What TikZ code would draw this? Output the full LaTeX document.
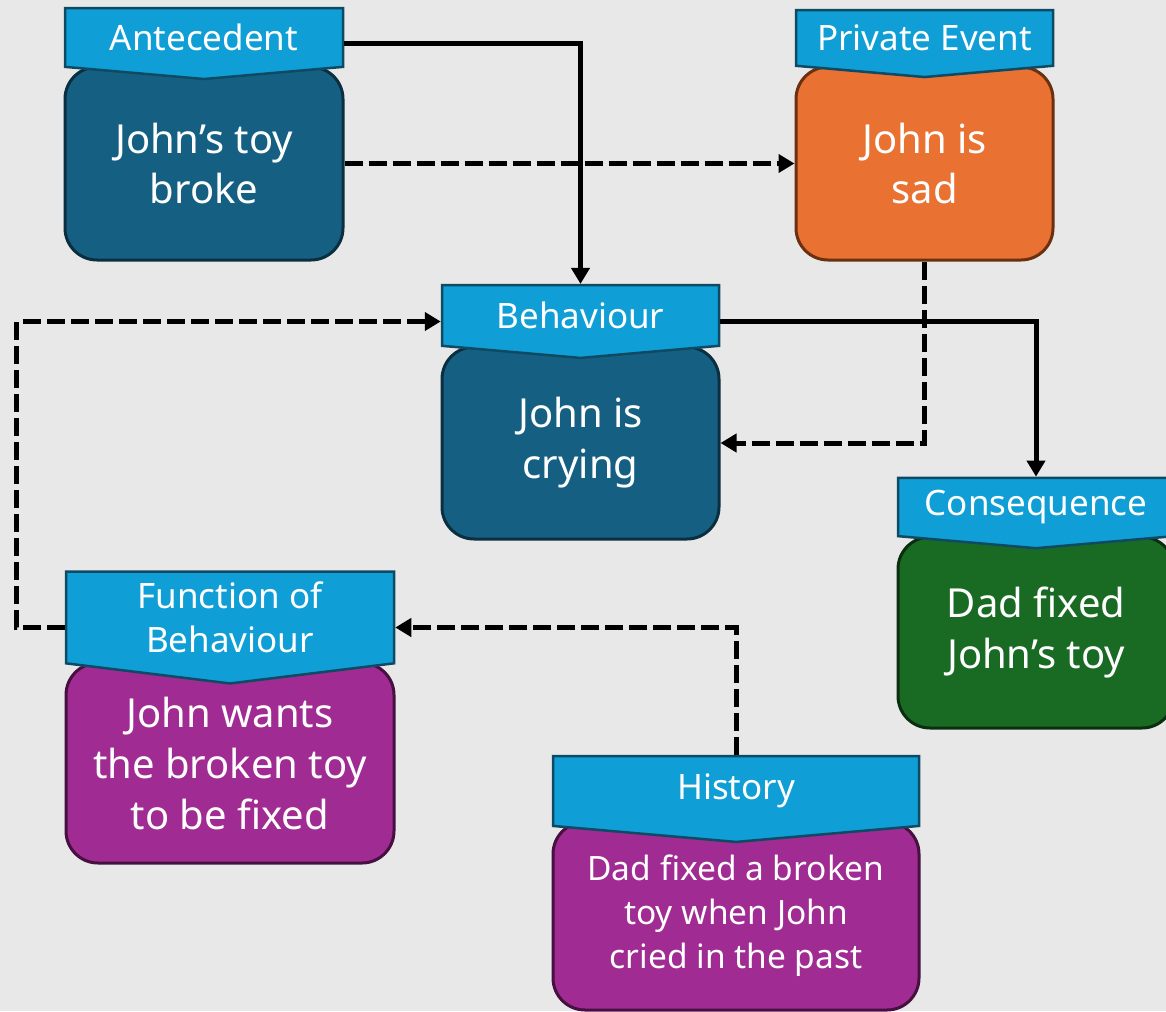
\documentclass[tikz,border=0pt]{standalone}
\usepackage{fontspec}
\setmainfont{Noto Sans}
\usetikzlibrary{arrows.meta,shapes.symbols}

\definecolor{bgGray}{HTML}{E8E8E8}
\definecolor{tagBlue}{HTML}{0F9ED5}
\definecolor{tagEdge}{HTML}{0E4A63}
\definecolor{cardTeal}{HTML}{156082}
\definecolor{edgeTeal}{HTML}{0B2F40}
\definecolor{cardOrange}{HTML}{E97132}
\definecolor{edgeOrange}{HTML}{6A3010}
\definecolor{cardGreen}{HTML}{196B24}
\definecolor{edgeGreen}{HTML}{0B2E10}
\definecolor{cardPurple}{HTML}{A02B93}
\definecolor{edgePurple}{HTML}{461040}

\tikzset{
	tagbox/.style={signal, signal to=south, signal pointer angle=170, fill=tagBlue, draw=tagEdge, line width=2.5pt, text=white, align=center, inner sep=0pt, font=\fontsize{35}{44}\selectfont},
	cardbox/.style={rectangle, rounded corners=32pt, line width=3pt, text=white, align=center, font=\fontsize{40}{51}\selectfont},
	solidlink/.style={line width=5pt, -{Triangle[length=16pt,width=18pt]}},
	dashlink/.style={solidlink, dash pattern=on 18pt off 6pt},
}

\begin{document}
\begin{tikzpicture}[x=1pt,y=-1pt]
				% Canvas
				\useasboundingbox (0,0) rectangle (1166,1011);
				\fill[bgGray] (0,0) rectangle (1166,1011);
				
				% Cards
				\node[cardbox, fill=cardTeal, draw=edgeTeal, minimum width=278pt, minimum height=193pt] (ante) at (204,163.5) {John’s toy\\broke};
				\node[cardbox, fill=cardOrange, draw=edgeOrange, minimum width=257pt, minimum height=193pt] (priv) at (924.5,163.5) {John is\\sad};
				\node[cardbox, fill=cardTeal, draw=edgeTeal, minimum width=277pt, minimum height=192pt] (beh) at (580.5,443) {John is\\crying};
				\node[cardbox, fill=cardGreen, draw=edgeGreen, minimum width=276pt, minimum height=191pt] (cons) at (1036,632.5) {Dad fixed\\John’s toy};
				\node[cardbox, fill=cardPurple, draw=edgePurple, minimum width=328pt, minimum height=200pt] (func) at (230,763) {John wants\\the broken toy\\to be fixed};
				\node[cardbox, fill=cardPurple, draw=edgePurple, minimum width=366pt, minimum height=188pt, font=\fontsize{33.5}{44}\selectfont] (hist) at (736,916) {Dad fixed a broken\\toy when John\\cried in the past};
				
				% Tags
				\node[tagbox, minimum width=278pt, minimum height=67pt] (anteTag) at (204,37.5) {Antecedent};
				\node[tagbox, minimum width=257pt, minimum height=65pt] (privTag) at (924.5,38) {Private Event};
				\node[tagbox, minimum width=277pt, minimum height=68pt] (behTag) at (580.5,315.5) {Behaviour};
				\node[tagbox, minimum width=276pt, minimum height=68pt] (consTag) at (1036,507) {Consequence};
				\node[tagbox, signal pointer angle=166, minimum width=328pt, minimum height=103pt] (funcTag) at (230,617.5) {Function of\\Behaviour};
				\node[tagbox, minimum width=366pt, minimum height=75pt] (histTag) at (736,791) {History};
				
				% Links
				\draw[solidlink] ([yshift=-6pt]anteTag.east) -| (behTag.north);
				\draw[dashlink] (ante.east) -- (priv.west);
				\draw[dashlink] (priv.south) |- (beh.east);
				\draw[solidlink] ([yshift=-6pt]behTag.east) -| (consTag.north);
				\draw[dashlink] (histTag.north) |- ([yshift=-10pt]funcTag.east);
				\draw[dashlink] ([yshift=-10pt]funcTag.west) -- ++(-48,0) |- ([yshift=-6pt]behTag.west);
\end{tikzpicture}
\end{document}
